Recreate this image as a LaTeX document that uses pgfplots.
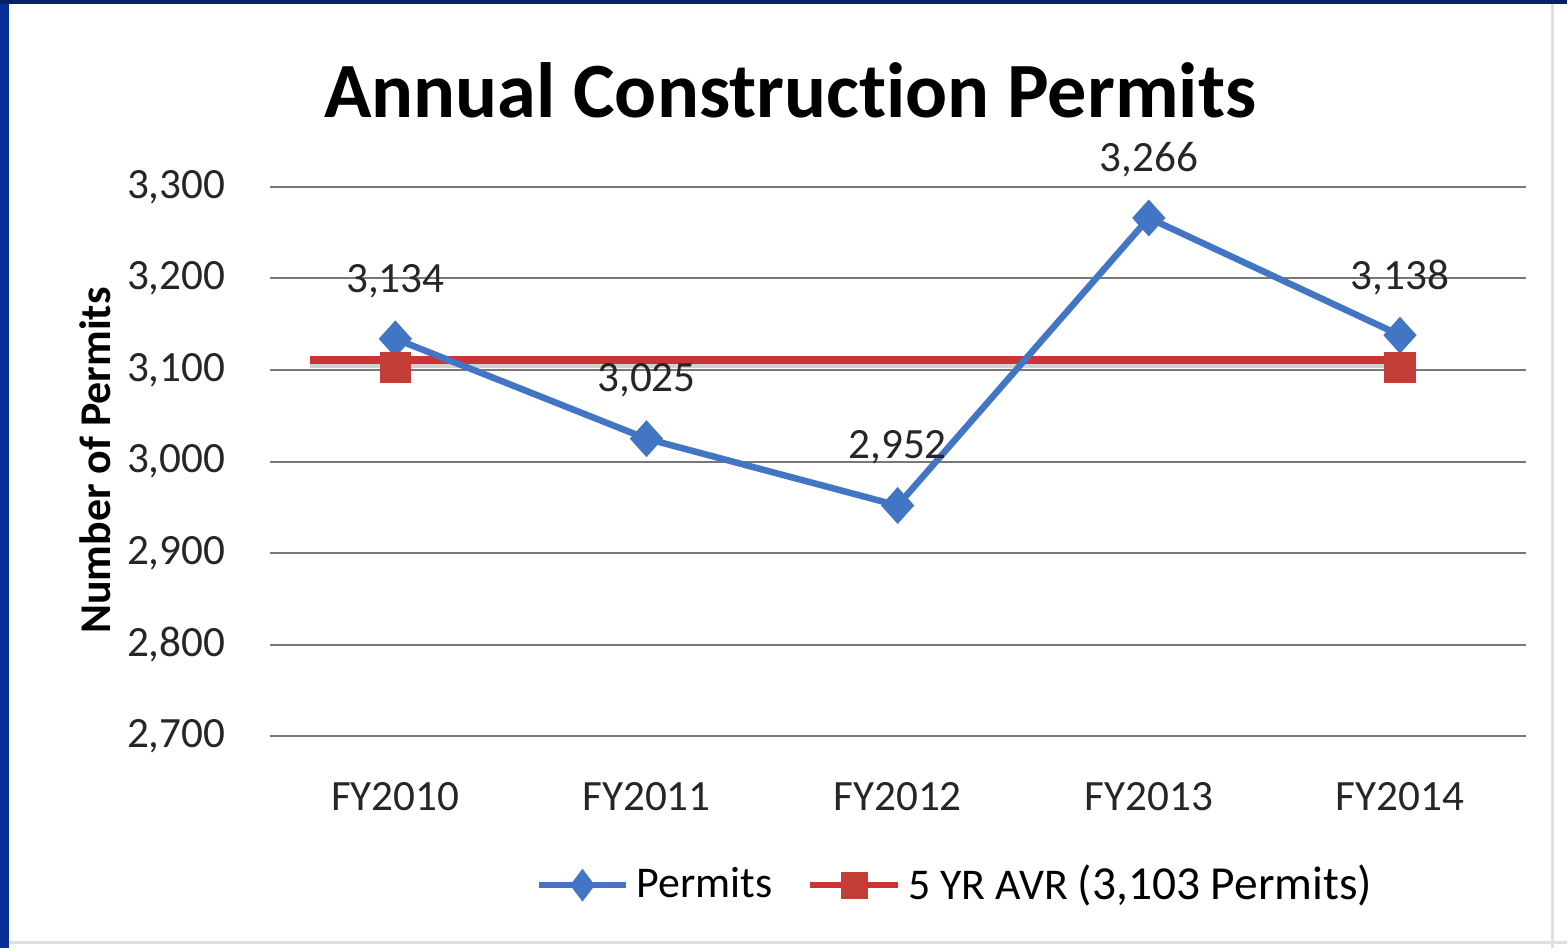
\documentclass[border=0pt]{standalone}
\usepackage{pgfplots}
\pgfplotsset{compat=1.18}
\usepackage{fontspec}
\setmainfont{Carlito}[Ligatures=NoCommon]
\definecolor{pblue}{RGB}{66,118,196}
\definecolor{pred}{RGB}{204,52,52}
\definecolor{pred2}{RGB}{196,62,56}
\definecolor{frameblue}{RGB}{8,48,150}
\definecolor{gridc}{RGB}{120,120,120}
\begin{document}
\begin{tikzpicture}
\fill[white] (0,0) rectangle (156.8mm,94.9mm);
\fill[frameblue] (0,0) rectangle (0.9mm,94.9mm);
\fill[frameblue!70!black] (0,94.5mm) rectangle (156.8mm,94.9mm);
\draw[gray!25,line width=0.3mm] (155.4mm,0) -- (155.4mm,94.5mm);
\draw[gray!25,line width=0.3mm] (0.9mm,0.6mm) -- (156.8mm,0.6mm);
\node[font=\fontsize{22.3}{26}\selectfont\bfseries] at (79.1mm,85.9mm) {Annual Construction Permits};
\node[font=\fontsize{12.5}{15}\selectfont\bfseries, rotate=90] at (9.5mm,48.8mm) {Number of Permits};
\begin{axis}[
  at={(27mm,21.2mm)}, anchor=south west,
  scale only axis, width=125.7mm, height=55mm,
  xmin=-0.5, xmax=4.5, ymin=2700, ymax=3300,
  ytick={2700,2800,...,3300},
  xtick={0,1,2,3,4},
  xticklabels={FY2010,FY2011,FY2012,FY2013,FY2014},
  axis line style={draw=none},
  major tick length=0pt,
  ymajorgrids,
  grid style={gridc, line width=0.2mm},
  tick label style={font=\fontsize{12.3}{15}\selectfont, text=black!85},
  xticklabel style={yshift=-3.4mm},
  yticklabel style={xshift=-3.2mm},
  /pgf/number format/assume math mode=true,
  /pgf/number format/1000 sep={,},
  clip=false,
  legend style={draw=none, fill=none, at={(0.5475,-0.271)}, anchor=center,
    font=\fontsize{12.5}{15}\selectfont, legend columns=2,
    /tikz/every even column/.append style={column sep=2.8mm}},
  legend image code/.code={\draw[mark repeat=2,mark phase=2,#1] plot coordinates {(0mm,0mm) (4.4mm,0mm) (8.8mm,0mm)};},
]
\addplot[gray!35, line width=0.4mm, forget plot] coordinates {(-0.34,3104) (4.06,3104)};
\addplot[pred, line width=0.75mm, forget plot] coordinates {(-0.34,3111) (4.06,3111)};
\addplot[pblue, line width=0.65mm, mark=diamond*, mark size=1.7mm,
  mark options={xscale=1.2, fill=pblue, line width=0.2mm},
  nodes near coords,
  every node near coord/.append style={anchor=center, yshift=5.8mm, font=\fontsize{12.3}{15}\selectfont, text=black!85},
  forget plot]
  coordinates {(0,3134) (1,3025) (2,2952) (3,3266) (4,3138)};
\addplot[only marks, mark=square*, mark size=1.5mm, pred2, mark options={fill=pred2}, forget plot]
  coordinates {(0,3103) (4,3103)};
\addlegendimage{pblue, line width=0.6mm, mark=diamond*, mark size=1.15mm, mark options={fill=pblue}}
\addlegendentry{Permits}
\addlegendimage{pred, line width=0.6mm, mark=square*, mark size=1.05mm, mark options={fill=pred2, draw=pred2}}
\addlegendentry{5 YR AVR {\fontsize{13.5}{16}\selectfont (3,103 Permits)}}
\end{axis}
\end{tikzpicture}
\end{document}
